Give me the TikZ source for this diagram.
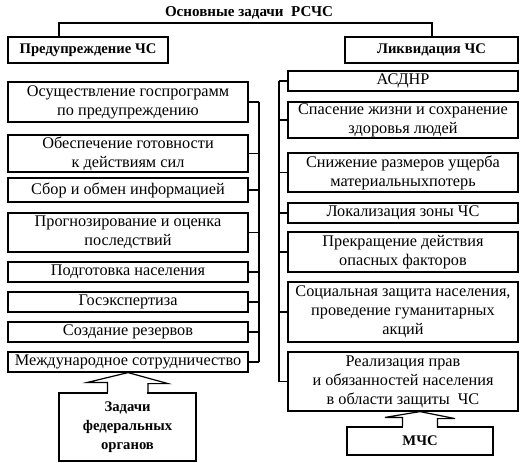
\documentclass[tikz,border=0pt]{standalone}
\usepackage{fontspec}
\setmainfont{Liberation Serif}
\tikzset{
  box/.style={draw, line width=0.9pt, inner sep=1pt, align=center, font=\fontsize{12.2}{14.3}\selectfont},
  headbox/.style={box, font=\fontsize{11}{14.2}\selectfont\bfseries},
  link/.style={line width=0.9pt},
}
\begin{document}
\begin{tikzpicture}[x=0.75pt,y=0.75pt,yscale=-1,xscale=1]
\path[use as bounding box] (0,0) rectangle (531,463);

% Title
\node[font=\fontsize{11.3}{13}\selectfont\bfseries] (title) at (249,13) {Основные задачи \ РСЧС};
% Headers
\node[headbox, minimum width=120pt, minimum height=19.5pt] (lh) at (88,50) {Предупреждение ЧС};
\node[headbox, minimum width=129.75pt, minimum height=19.5pt] (rh) at (431.5,50) {Ликвидация ЧС};
\coordinate (tl) at (59,23);
\coordinate (tr) at (432,23);
\draw[link] (lh.north -| tl) -- (tl) -- (tr) -- (rh.north -| tr);

%Left column
\node[box, minimum width=180pt, minimum height=30pt] (L1) at (128,102) {Осуществление госпрограмм\\по предупреждению};
\node[box, minimum width=180pt, minimum height=27.75pt] (L2) at (128,153.5) {Обеспечение готовности\\к действиям сил};
\node[box, minimum width=180pt, minimum height=18pt] (L3) at (128,190) {Сбор и обмен информацией};
\node[box, minimum width=180pt, minimum height=29.25pt] (L4) at (128,232.5) {Прогнозирование и оценка\\последствий};
\node[box, minimum width=180pt, minimum height=15pt] (L5) at (128,272) {Подготовка населения};
\node[box, minimum width=180pt, minimum height=15pt] (L6) at (128,302) {Госэкспертиза};
\node[box, minimum width=180pt, minimum height=15pt] (L7) at (128,332) {Создание резервов};
\node[box, minimum width=180pt, minimum height=15pt] (L8) at (128,362) {Международное сотрудничество};

%Right column
\node[box, minimum width=172.5pt, minimum height=15pt] (R1) at (403,81) {АСДНР};
\node[box, minimum width=172.5pt, minimum height=27pt] (R2) at (403,120) {Спасение жизни и сохранение\\здоровья людей};
\node[box, minimum width=172.5pt, minimum height=29.25pt] (R3) at (403,172.5) {Снижение размеров ущерба\\материальныхпотерь};
\node[box, minimum width=172.5pt, minimum height=15pt] (R4) at (403,213) {Локализация зоны ЧС};
\node[box, minimum width=172.5pt, minimum height=30pt] (R5) at (403,252) {Прекращение действия\\опасных факторов};
\node[box, minimum width=172.5pt, minimum height=45pt] (R6) at (403,312) {Социальная защита населения,\\проведение гуманитарных\\акций};
\node[box, minimum width=172.5pt, minimum height=44.25pt] (R7) at (403,381.5) {Реализация прав\\и обязанностей населения\\в области защиты \ ЧС};

%Bus lines
\coordinate (lbus) at (259,0);
\coordinate (rbus) at (279,0);
\draw[link] (L1.east) -- (L1.east -| lbus);
\draw[link] (L2.east) -- (L2.east -| lbus);
\draw[link] (L3.east) -- (L3.east -| lbus);
\draw[link] (L4.east) -- (L4.east -| lbus);
\draw[link] (L5.east) -- (L5.east -| lbus);
\draw[link] (L6.east) -- (L6.east -| lbus);
\draw[link] (L7.east) -- (L7.east -| lbus);
\draw[link] (L8.east) -- (L8.east -| lbus);
\draw[link] (L1.east -| lbus) -- (L8.east -| lbus);
\draw[link] (R1.west) -- (R1.west -| rbus);
\draw[link] (R2.west) -- (R2.west -| rbus);
\draw[link] (R3.west) -- (R3.west -| rbus);
\draw[link] (R4.west) -- (R4.west -| rbus);
\draw[link] (R5.west) -- (R5.west -| rbus);
\draw[link] (R6.west) -- (R6.west -| rbus);
\draw[link] (R7.west) -- (R7.west -| rbus);
\draw[link] (R1.west -| rbus) -- (R7.west -| rbus);

%Bottom boxes
\node[headbox, minimum width=102.75pt, minimum height=51pt] (fed) at (127.5,427) {Задачи\\федеральных\\органов};
\node[headbox, minimum width=109.5pt, minimum height=21pt] (mchs) at (420,441) {МЧС};

%Block arrows
\fill[white] (fed.north) ++(-19.3,-1.2) rectangle ++(38.6,2.4);
\draw[link] (fed.north) ++(-20,0) -- ++(0,-10) -- ++(-20,0) -- (L8.south) -- ++(40,11) -- ++(-20,0) -- ++(0,10);
\coordinate (mtip) at (R7.south -| mchs.north);
\fill[white] (mchs.north) ++(-16.8,-1.2) rectangle ++(33.6,2.4);
\draw[link] (mchs.north) ++(-17.5,0) -- ++(0,-9) -- ++(-17.5,0) -- (mtip) -- ++(35,7) -- ++(-17.5,0) -- ++(0,9);

\end{tikzpicture}
\end{document}
